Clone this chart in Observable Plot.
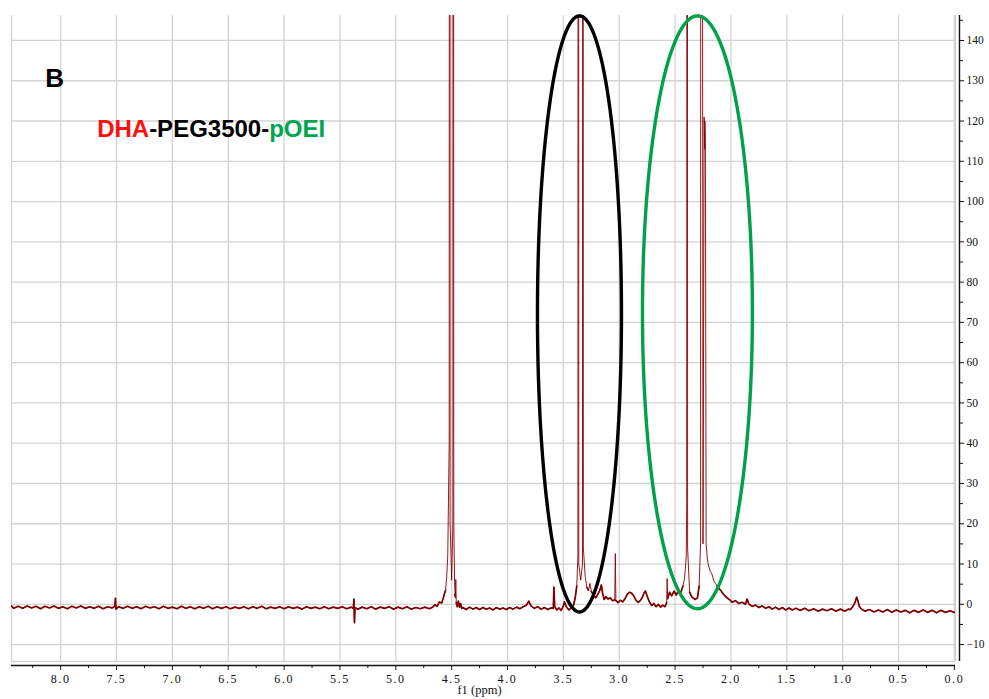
<!DOCTYPE html>
<html><head><meta charset="utf-8">
<script src="https://cdn.jsdelivr.net/npm/d3@7"></script>
<script src="https://cdn.jsdelivr.net/npm/@observablehq/plot@0.6"></script>
<style>
body{margin:0;background:#fff;overflow:hidden;}
#chart svg{display:block;}
</style>
</head><body><div id="chart"></div>
<script>
// ---- axis ticks ----
const xTicks = [8.0,7.5,7.0,6.5,6.0,5.5,5.0,4.5,4.0,3.5,3.0,2.5,2.0,1.5,1.0,0.5,0.0];
const xMinorTicks = [8.25,7.75,7.25,6.75,6.25,5.75,5.25,4.75,4.25,3.75,3.25,2.75,2.25,1.75,1.25,0.75,0.25];
const yTicks = [-10,0,10,20,30,40,50,60,70,80,90,100,110,120,130,140];
const yMinorTicks = [-5,5,15,25,35,45,55,65,75,85,95,105,115,125,135,145];
const xDomain = [8.44, -0.01];
const yDomain = [-14.2, 146.2];

// ---- spectrum (ppm, intensity); 600 = off-scale peak top ----
const baselineLeft = [[8.44,-0.4],[8.42,-1.0],[8.38,-0.5],[8.34,-1.0],[8.30,-0.4],[8.26,-0.9],[8.22,-0.5],[8.18,-1.1],[8.14,-0.5],[8.10,-0.9],[8.06,-0.4],[8.02,-1.0],[7.98,-0.6],[7.94,-1.1],[7.90,-0.5],[7.86,-0.9],[7.82,-0.4],[7.78,-1.0],[7.74,-0.6],[7.70,-1.0],[7.66,-0.5],[7.62,-1.1],[7.58,-0.6],[7.54,-0.9],[7.515,-0.5],[7.51,1.5],[7.505,-1.2],[7.48,-0.6],[7.44,-1.0],[7.40,-0.5],[7.36,-1.0],[7.32,-0.6],[7.28,-1.1],[7.24,-0.5],[7.20,-0.9],[7.16,-0.6],[7.12,-1.1],[7.08,-0.5],[7.04,-1.0],[7.00,-0.7],[6.96,-1.1],[6.92,-0.5],[6.88,-1.0],[6.84,-0.6],[6.80,-1.1],[6.76,-0.6],[6.72,-1.0],[6.68,-0.5],[6.64,-1.1],[6.60,-0.6],[6.56,-1.0],[6.52,-0.6],[6.48,-1.1],[6.44,-0.7],[6.40,-1.0],[6.36,-0.6],[6.32,-1.1],[6.28,-0.6],[6.24,-1.0],[6.20,-0.5],[6.16,-1.1],[6.12,-0.7],[6.08,-1.0],[6.04,-0.6],[6.00,-1.1],[5.96,-0.6],[5.92,-1.0],[5.88,-0.7],[5.84,-1.2],[5.80,-0.6],[5.76,-1.0],[5.72,-0.7],[5.68,-1.1],[5.64,-0.6],[5.60,-1.1],[5.56,-0.7],[5.52,-1.0],[5.48,-0.6],[5.44,-1.1],[5.40,-0.7],[5.38,-1.0],[5.375,1.3],[5.37,-4.6],[5.365,-0.8],[5.34,-1.2],[5.30,-0.7],[5.26,-1.1],[5.22,-0.6],[5.18,-1.2],[5.14,-0.7],[5.10,-1.0],[5.06,-0.6],[5.02,-1.2],[4.98,-0.7],[4.94,-1.1],[4.90,-0.6],[4.86,-1.2],[4.82,-0.8],[4.78,-1.1],[4.74,-0.7],[4.70,-1.1]];
const peak45 = [[4.67,-0.7],[4.65,-0.1],[4.63,-0.5],[4.61,0.6],[4.59,0.3],[4.575,1.5],[4.565,2.6],[4.555,3.4],[4.545,6.5],[4.535,12],[4.522,40],[4.518,600],[4.514,20],[4.50,6],[4.489,20],[4.485,600],[4.481,20],[4.474,6],[4.47,2.5],[4.466,1.8],[4.463,6.2],[4.459,0.4],[4.45,-0.6],[4.44,0.8],[4.43,-0.7],[4.42,0.2],[4.41,-1.0]];
const middle = [[4.40,-0.8],[4.37,-1.3],[4.34,-0.7],[4.31,-1.2],[4.28,-0.8],[4.25,-1.3],[4.22,-0.8],[4.19,-1.2],[4.16,-0.9],[4.13,-1.4],[4.10,-0.8],[4.07,-1.2],[4.04,-0.9],[4.01,-1.3],[3.98,-0.8],[3.95,-1.2],[3.92,-0.7],[3.89,-1.1],[3.86,-0.6],[3.83,-0.2],[3.81,0.8],[3.79,-0.4],[3.76,-1.0],[3.73,-0.6],[3.70,-1.2],[3.67,-0.8],[3.64,-1.3],[3.61,-0.9],[3.59,-1.0],[3.585,4.3],[3.578,-0.5],[3.56,-1.4],[3.54,-0.9],[3.52,-1.5],[3.50,-0.4],[3.49,0.6],[3.47,-0.8],[3.45,-1.4],[3.43,-0.9],[3.41,-0.3],[3.395,1.5],[3.38,4.5],[3.37,12],[3.366,600],[3.362,10],[3.345,6],[3.329,10],[3.325,600],[3.321,14],[3.305,7],[3.29,4.2],[3.275,3.5],[3.262,5.2],[3.25,3.2],[3.23,2.2],[3.21,1.6],[3.19,2.6],[3.175,3.4],[3.16,4.8],[3.148,2.6],[3.135,1.2],[3.12,1.9],[3.10,1.3],[3.08,1.6],[3.06,0.9],[3.04,1.1],[3.035,12.6],[3.03,0.9],[3.01,0.4],[2.99,1.0],[2.97,0.6],[2.95,1.3],[2.93,2.4],[2.91,3.0],[2.89,2.8],[2.87,2.1],[2.85,1.0],[2.83,0.5],[2.81,1.0],[2.79,1.9],[2.775,3.0],[2.765,3.3],[2.75,2.0],[2.73,0.6],[2.71,-0.3],[2.69,0.2],[2.67,-0.6],[2.65,0.0],[2.63,-0.7],[2.61,-0.2],[2.59,-0.6],[2.575,0.4],[2.571,6.4],[2.567,1.4],[2.55,3.0],[2.53,2.1],[2.51,3.3],[2.49,2.3],[2.47,3.5],[2.45,2.9],[2.43,4.5]];
const peak23 = [[2.415,6.5],[2.40,12],[2.396,25],[2.392,600],[2.388,14],[2.37,3],[2.35,1.8],[2.32,1.2],[2.30,1.6],[2.285,4.5],[2.272,15],[2.268,600],[2.25,15],[2.24,121],[2.236,113],[2.233,120],[2.229,116],[2.222,15],[2.21,11],[2.20,9.5],[2.185,8.2],[2.17,7.5],[2.155,6.0],[2.14,5.2],[2.125,4.6],[2.11,4.0],[2.09,3.4],[2.07,2.6],[2.05,2.0],[2.03,1.5],[2.01,1.1]];
const baselineRight = [[1.99,0.5],[1.96,0.9],[1.93,0.2],[1.90,0.5],[1.87,0.0],[1.855,1.3],[1.84,0.1],[1.81,-0.5],[1.78,-0.2],[1.75,-0.8],[1.72,-0.4],[1.69,-1.0],[1.66,-0.6],[1.63,-1.2],[1.60,-0.7],[1.57,-1.3],[1.54,-0.8],[1.51,-1.4],[1.48,-0.9],[1.45,-1.4],[1.42,-1.0],[1.38,-1.5],[1.34,-1.0],[1.30,-1.6],[1.26,-1.1],[1.22,-1.7],[1.18,-1.2],[1.14,-1.6],[1.10,-1.1],[1.06,-1.7],[1.02,-1.2],[0.98,-1.7],[0.95,-1.2],[0.93,-1.3],[0.91,-0.6],[0.89,0.4],[0.875,1.8],[0.865,1.0],[0.85,-0.6],[0.83,-1.2],[0.80,-1.7],[0.76,-1.3],[0.72,-1.9],[0.68,-1.4],[0.64,-1.9],[0.60,-1.3],[0.56,-2.0],[0.52,-1.4],[0.48,-1.9],[0.44,-1.5],[0.40,-2.1],[0.36,-1.5],[0.32,-2.0],[0.28,-1.4],[0.24,-2.0],[0.20,-1.5],[0.16,-2.1],[0.12,-1.5],[0.08,-2.0],[0.04,-1.6],[0.00,-2.0]];

// ---- annotations ----
const ellipseNames = ["PEG", "pOEI"];
const ellipseCenterPpm = [3.356, 2.300];
const ellipseRadiusPpm = [0.376, 0.492];
const ellipseCenterValue = [72.1, 72.5];
const ellipseRadiusValue = [74.0, 73.6];
const ellipseColors = ["#000000", "#00a14b"];
const panelLabel = {text: "B", ppm: 8.134, value: 128.3};
const titleParts = [["DHA", "#ff1010"], ["-PEG3500-", "#000000"], ["pOEI", "#00a550"]];
const titlePos = {ppm: 7.669, value: 115.9};

const spectrum = [...baselineLeft, ...peak45, ...middle, ...peak23, ...baselineRight]
  .map(([ppm, intensity]) => ({ppm, intensity}));

function ellipsePoints(i) {
  const pts = [];
  for (let k = 0; k <= 240; k++) {
    const t = (k / 240) * 2 * Math.PI;
    pts.push({
      ppm: ellipseCenterPpm[i] + ellipseRadiusPpm[i] * Math.cos(t),
      value: ellipseCenterValue[i] + ellipseRadiusValue[i] * Math.sin(t)
    });
  }
  return pts;
}

const gridStyle = {stroke: "#d3d3d3", strokeOpacity: 1, strokeWidth: 1.3};

const plot = Plot.plot({
  width: 989, height: 699,
  marginLeft: 11, marginRight: 34, marginTop: 15, marginBottom: 38,
  x: {domain: xDomain},
  y: {domain: yDomain},
  style: {background: "#fff", fontFamily: "'Liberation Serif', 'DejaVu Serif', serif", color: "#111"},
  marks: [
    Plot.gridX(xTicks, gridStyle),
    Plot.gridY(yTicks, gridStyle),
    Plot.ruleX([xDomain[0], xDomain[1]], gridStyle),
    Plot.ruleY([yDomain[0]], gridStyle),
    // thin full trace (peaks)
    Plot.line(spectrum, {x: "ppm", y: "intensity", stroke: "#8a0000", strokeWidth: 0.9, strokeLinejoin: "round", clip: true}),
    // denser look for the noisy baseline
    Plot.line(spectrum, {x: "ppm", y: d => (d.intensity < 5 ? d.intensity : NaN), stroke: "#800000", strokeWidth: 1.7, strokeLinejoin: "round", clip: true}),
    ...ellipseNames.map((n, i) => Plot.line(ellipsePoints(i), {x: "ppm", y: "value", stroke: ellipseColors[i], strokeWidth: 3.4})),
    Plot.ruleY([yDomain[0]], {dy: 4, stroke: "#111", strokeWidth: 1.4}),
    Plot.ruleX([xDomain[1]], {dx: 4, stroke: "#111", strokeWidth: 1.4}),
    Plot.axisX(xTicks, {anchor: "bottom", dy: 4, tickSize: 5, tickPadding: 4, fontSize: 12, label: null, tickFormat: d => d.toFixed(1)}),
    Plot.axisX(xMinorTicks, {anchor: "bottom", dy: 4, tickSize: 3, fill: "none", label: null}),
    Plot.axisY(yTicks, {anchor: "right", dx: 4, tickSize: 4, tickPadding: 3, fontSize: 11.5, label: null}),
    Plot.axisY(yMinorTicks, {anchor: "right", dx: 4, tickSize: 3, fill: "none", label: null}),
    Plot.text(["f1 (ppm)"], {frameAnchor: "bottom", dx: -4, dy: 32, fontSize: 12.5})
  ]
});

document.getElementById("chart").appendChild(plot);

const sx = plot.scale("x"), sy = plot.scale("y");
const svg = d3.select(plot);
svg.selectAll('g[aria-label="x-axis tick label"] text').style("letter-spacing", "1.6px");
svg.append("text")
  .attr("x", sx.apply(panelLabel.ppm)).attr("y", sy.apply(panelLabel.value))
  .attr("text-anchor", "start")
  .attr("font-family", "'Liberation Sans', Arial, sans-serif")
  .attr("font-weight", "bold").attr("font-size", 26).attr("fill", "#000")
  .text(panelLabel.text);
const title = svg.append("text")
  .attr("x", sx.apply(titlePos.ppm)).attr("y", sy.apply(titlePos.value))
  .attr("text-anchor", "start")
  .attr("font-family", "'Liberation Sans', Arial, sans-serif")
  .attr("font-weight", "bold").attr("font-size", 24);
titleParts.forEach(([t, c]) => title.append("tspan").attr("fill", c).text(t));
</script>
</body></html>
